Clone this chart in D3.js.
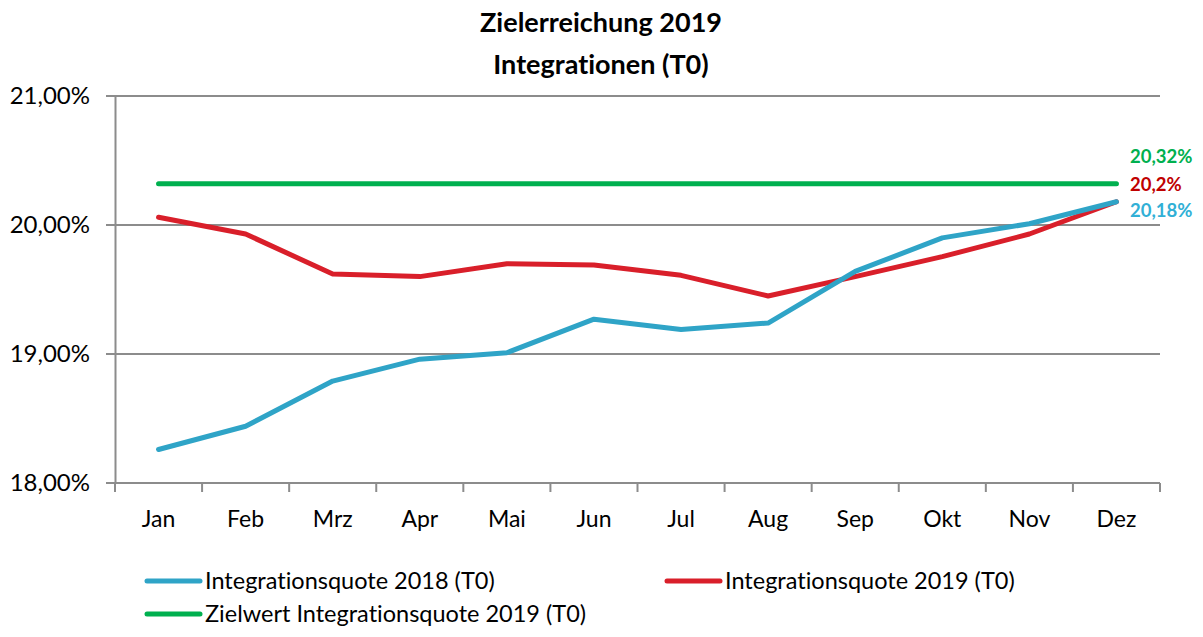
<!DOCTYPE html>
<html>
<head>
<meta charset="utf-8">
<script src="https://cdn.jsdelivr.net/npm/d3@7"></script>
<style>
  body { margin: 0; background: #fff; }
  svg { display: block; font-family: Lato, "Open Sans", sans-serif; font-variant-ligatures: none; }
</style>
</head>
<body>
<div id="chart"></div>
<script>
const MONTHS = ['Jan', 'Feb', 'Mrz', 'Apr', 'Mai', 'Jun', 'Jul', 'Aug', 'Sep', 'Okt', 'Nov', 'Dez'];
const QUOTE_2018 = [18.26, 18.44, 18.79, 18.96, 19.01, 19.27, 19.19, 19.24, 19.64, 19.90, 20.01, 20.18];
const QUOTE_2019 = [20.06, 19.93, 19.62, 19.60, 19.70, 19.69, 19.61, 19.45, 19.60, 19.755, 19.93, 20.18];
const ZIELWERT = [20.32, 20.32, 20.32, 20.32, 20.32, 20.32, 20.32, 20.32, 20.32, 20.32, 20.32, 20.32];
const Y_TICKS = [18, 19, 20, 21];
const END_LABELS = ['20,18%', '20,2%', '20,32%'];
const SERIES_NAMES = ['Integrationsquote 2018 (T0)', 'Integrationsquote 2019 (T0)', 'Zielwert Integrationsquote 2019 (T0)'];
const TITLE = ['Zielerreichung 2019', 'Integrationen (T0)'];

const W = 1203, H = 637;
const margin = { top: 96, left: 115, right: 43, bottom: 154 };
const width = W - margin.left - margin.right;
const height = H - margin.top - margin.bottom;

const series = [
  { name: SERIES_NAMES[0], values: QUOTE_2018, color: '#2fa4c7', label: END_LABELS[0], labelColor: '#31b0d6', labelDy: 211 - 96 },
  { name: SERIES_NAMES[1], values: QUOTE_2019, color: '#d91f2a', label: END_LABELS[1], labelColor: '#c00000', labelDy: 185 - 96 },
  { name: SERIES_NAMES[2], values: ZIELWERT, color: '#00b04f', label: END_LABELS[2], labelColor: '#00b04f', labelDy: 157 - 96 }
];

const svg = d3.select('#chart')
  .append('svg')
  .attr('width', W)
  .attr('height', H);

// Title
svg.append('text')
  .attr('x', 601).attr('y', 32)
  .attr('text-anchor', 'middle')
  .style('font-size', '27px').style('font-weight', 'bold')
  .text(TITLE[0]);
svg.append('text')
  .attr('x', 601).attr('y', 74)
  .attr('text-anchor', 'middle')
  .style('font-size', '27px').style('font-weight', 'bold')
  .text(TITLE[1]);

const g = svg.append('g')
  .attr('transform', 'translate(' + margin.left + ',' + margin.top + ')');

const x = d3.scaleBand()
  .domain(MONTHS)
  .range([0, width]);

const y = d3.scaleLinear()
  .domain([18, 21])
  .range([height, 0]);

// Gridlines
g.selectAll('.grid')
  .data(Y_TICKS)
  .enter()
  .append('line')
  .attr('x1', -9).attr('x2', width)
  .attr('y1', d => y(d)).attr('y2', d => y(d))
  .attr('stroke', '#8c8c8c')
  .attr('stroke-width', 2);

// Y axis
const yAxis = g.append('g')
  .call(d3.axisLeft(y).tickValues(Y_TICKS).tickSize(0).tickPadding(25)
    .tickFormat(d => d3.format('.2f')(d).replace('.', ',') + '%'));
yAxis.select('.domain').attr('stroke', '#8c8c8c').attr('stroke-width', 2);
yAxis.selectAll('text').style('font-size', '24px').attr('fill', '#000').attr('font-family', 'Lato, sans-serif');

// X axis
const xTicks = d3.range(MONTHS.length + 1).map(i => i * x.step());
const xAxis = g.append('g')
  .attr('transform', 'translate(0,' + height + ')');
xAxis.append('line')
  .attr('x1', 0).attr('x2', width)
  .attr('stroke', '#8c8c8c').attr('stroke-width', 2);
xAxis.selectAll('.xt')
  .data(xTicks)
  .enter()
  .append('line')
  .attr('x1', d => d).attr('x2', d => d)
  .attr('y1', 0).attr('y2', 9)
  .attr('stroke', '#8c8c8c').attr('stroke-width', 2);
xAxis.selectAll('.xl')
  .data(MONTHS)
  .enter()
  .append('text')
  .attr('x', d => x(d) + x.bandwidth() / 2)
  .attr('y', 44)
  .attr('text-anchor', 'middle')
  .style('font-size', '23px')
  .text(d => d);

// Lines
const line = d3.line()
  .x((d, i) => x(MONTHS[i]) + x.bandwidth() / 2)
  .y(d => y(d));

series.slice().reverse().forEach(s => {
  g.append('path')
    .datum(s.values)
    .attr('d', line)
    .attr('fill', 'none')
    .attr('stroke', s.color)
    .attr('stroke-width', 5)
    .attr('stroke-linecap', 'round')
    .attr('stroke-linejoin', 'round');
});

// End labels
series.forEach(s => {
  g.append('text')
    .attr('x', 1130 - margin.left)
    .attr('y', s.labelDy)
    .attr('dy', '0.35em')
    .style('font-size', '18.5px').style('font-weight', 'bold')
    .attr('fill', s.labelColor)
    .text(s.label);
});

// Legend
const legendPos = [[145, 581], [665, 581], [145, 614]];
series.forEach((s, i) => {
  const lg = svg.append('g')
    .attr('transform', 'translate(' + legendPos[i][0] + ',' + legendPos[i][1] + ')');
  lg.append('line')
    .attr('x1', 2).attr('x2', 55)
    .attr('stroke', s.color).attr('stroke-width', 5)
    .attr('stroke-linecap', 'round');
  lg.append('text')
    .attr('x', 60).attr('dy', '0.35em')
    .style('font-size', '23.5px')
    .text(s.name);
});
</script>
</body>
</html>
